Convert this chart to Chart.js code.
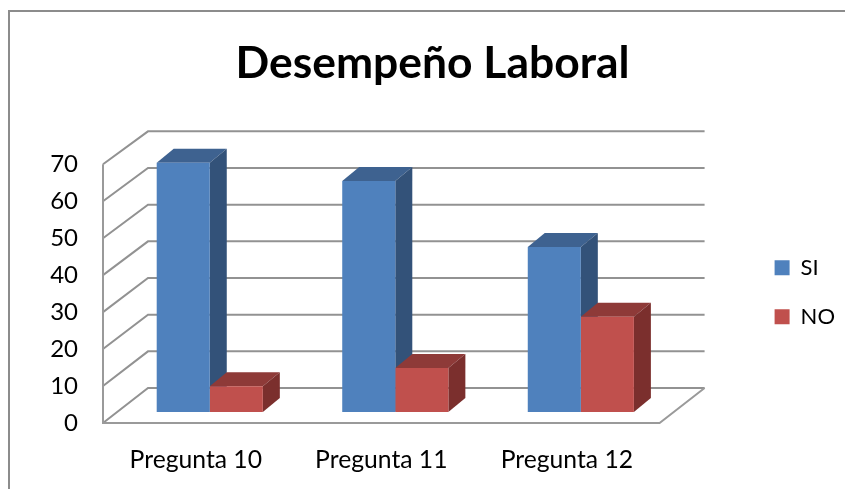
<!DOCTYPE html>
<html>
<head>
<meta charset="utf-8">
<style>html,body{margin:0;padding:0;background:#fff}canvas{display:block}</style>
<script src="https://cdn.jsdelivr.net/npm/chart.js@4"></script>
</head>
<body>
<canvas id="c" width="845" height="489"></canvas>
<script>
const categories = ['Pregunta 10', 'Pregunta 11', 'Pregunta 12'];
const seriesSI = [68, 63, 45];
const seriesNO = [7, 12, 26];

const GRID = '#929292';
const FACES = {
  SI: {front: '#4f81bd', top: '#3e6290', side: '#335279'},
  NO: {front: '#c0504d', top: '#8e3a38', side: '#7b2f2d'}
};
const BAR_DX = 17, BAR_DY = 14;   // bar extrusion
const FLOOR_DX = 14;              // bar plane behind the front plane
const BACK_DX = 31;               // back wall behind the bar plane
const BACK_DY = 24;

function seg(ctx, pts) {
  ctx.beginPath();
  pts.forEach((p, i) => i ? ctx.lineTo(p[0], p[1]) : ctx.moveTo(p[0], p[1]));
  ctx.stroke();
}
function poly(ctx, pts, fill) {
  ctx.beginPath();
  pts.forEach((p, i) => i ? ctx.lineTo(p[0], p[1]) : ctx.moveTo(p[0], p[1]));
  ctx.closePath();
  ctx.fillStyle = fill;
  ctx.fill();
}

const threeD = {
  id: 'threeD',
  afterLayout(chart) {
    const l = chart.legend;
    l.top += 15; l.bottom += 15;
    chart.titleBlock.left += 20;
  },
  beforeDraw(chart) {
    const ctx = chart.ctx;
    ctx.save();
    ctx.strokeStyle = '#8c8c8c';
    ctx.lineWidth = 2;
    seg(ctx, [[9, 489], [9, 11], [845, 11]]);
    ctx.restore();
  },
  beforeDatasetsDraw(chart) {
    const ctx = chart.ctx, sx = chart.scales.x, front = chart.scales.y, plane = chart.scales.y2;
    const fl = sx.left - FLOOR_DX, fr = sx.right - FLOOR_DX;
    const bl = sx.left + BACK_DX, br = sx.right + BACK_DX;
    ctx.save();
    ctx.strokeStyle = GRID;
    ctx.lineWidth = 2;
    front.ticks.forEach(t => {
      const yf = front.getPixelForValue(t.value);
      const yb = plane.getPixelForValue(t.value) - BACK_DY;
      seg(ctx, [[fl, yf], [bl, yb], [br, yb]]);
    });
    const y0 = front.getPixelForValue(0);
    const y0b = plane.getPixelForValue(0) - BACK_DY;
    const yTop = front.getPixelForValue(front.ticks[front.ticks.length - 1].value);
    ctx.strokeStyle = '#9a9a9a';
    seg(ctx, [[fl, yTop], [fl, y0], [fr, y0], [br, y0b]]);
    // extrusion of every bar, behind the front faces
    const names = ['SI', 'NO'];
    const n = chart.data.labels.length;
    for (let i = 0; i < n; i++) {
      names.forEach((name, d) => {
        const b = chart.getDatasetMeta(d).data[i];
        const l = b.x - b.width / 2, r = b.x + b.width / 2, t = b.y, base = b.base;
        poly(ctx, [[l, t], [l + BAR_DX, t - BAR_DY], [r + BAR_DX, t - BAR_DY], [r, t]], FACES[name].top);
        poly(ctx, [[r, t], [r + BAR_DX, t - BAR_DY], [r + BAR_DX, base - BAR_DY], [r, base]], FACES[name].side);
      });
    }
    ctx.restore();
  }
};

new Chart(document.getElementById('c'), {
  type: 'bar',
  data: {
    labels: categories,
    datasets: [
      {label: 'SI', data: seriesSI, backgroundColor: FACES.SI.front, yAxisID: 'y2', borderWidth: 0},
      {label: 'NO', data: seriesNO, backgroundColor: FACES.NO.front, yAxisID: 'y2', borderWidth: 0}
    ]
  },
  plugins: [threeD],
  options: {
    responsive: false,
    animation: false,
    events: [],
    devicePixelRatio: 1,
    datasets: {bar: {categoryPercentage: 0.572, barPercentage: 1}},
    layout: {padding: 0},
    font: {family: 'Lato'},
    plugins: {
      tooltip: {enabled: false},
      title: {
        display: true,
        text: 'Desempeño Laboral',
        color: '#000',
        font: {family: 'Lato', size: 44.4, weight: 'bold', lineHeight: 1.2},
        padding: {top: 37, bottom: 41}
      },
      legend: {
        position: 'right',
        fullSize: false,
        labels: {
          color: '#000',
          font: {family: 'Lato', size: 22},
          boxWidth: 15,
          boxHeight: 15,
          padding: 27
        }
      }
    },
    scales: {
      x: {
        type: 'category',
        grid: {display: false},
        border: {display: false},
        afterFit(s) { s.height = 66; },
        ticks: {
          color: '#000',
          font: {family: 'Lato', size: 24.7},
          labelOffset: -14,
          padding: 14,
          maxRotation: 0
        }
      },
      y: {
        min: 0,
        max: 78.92,
        position: 'left',
        grid: {display: false},
        border: {display: false},
        afterFit(s) { s.width = 117; },
        ticks: {
          color: '#000',
          font: {family: 'Lato', size: 24},
          stepSize: 10,
          includeBounds: false,
          padding: 31,
          callback: v => v
        }
      },
      y2: {
        min: -3,
        max: 76.57,
        position: 'right',
        grid: {display: false},
        border: {display: false},
        afterFit(s) { s.width = 74; },
        ticks: {display: false}
      }
    }
  }
});
</script>
</body>
</html>
